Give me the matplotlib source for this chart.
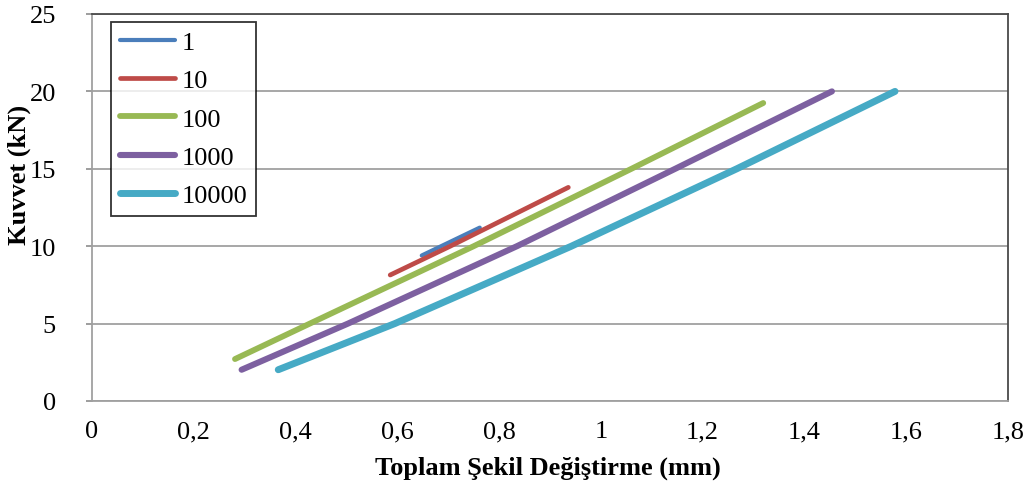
import matplotlib
matplotlib.use("Agg")
import matplotlib.pyplot as plt
from matplotlib.ticker import FuncFormatter

# Force-displacement curves per cycle count
series_names = ["1", "10", "100", "1000", "10000"]
colors = ["#4A7EBB", "#BE4B48", "#98B954", "#7D60A0", "#46AAC5"]
widths = [3.0, 3.4, 4.2, 4.4, 5.0]

x_1 = [0.648, 0.705, 0.762]
y_1 = [9.40, 10.30, 11.20]

x_10 = [0.586, 0.704, 0.820, 0.936]
y_10 = [8.14, 10.0, 11.90, 13.80]

x_100 = [0.281, 0.428, 0.750, 1.060, 1.319]
y_100 = [2.71, 5.0, 10.0, 15.0, 19.25]

x_1000 = [0.294, 0.503, 0.835, 1.146, 1.454]
y_1000 = [2.02, 5.0, 10.0, 15.0, 20.0]

x_10000 = [0.366, 0.595, 0.942, 1.267, 1.578]
y_10000 = [2.02, 5.0, 10.0, 15.0, 20.0]

xs = [x_1, x_10, x_100, x_1000, x_10000]
ys = [y_1, y_10, y_100, y_1000, y_10000]

x_ticks = [0, 0.2, 0.4, 0.6, 0.8, 1.0, 1.2, 1.4, 1.6, 1.8]
y_ticks = [0, 5, 10, 15, 20, 25]

plt.rcParams["font.family"] = ["Liberation Serif", "DejaVu Serif"]

fig = plt.figure(figsize=(10.26, 4.89), dpi=100)
ax = fig.add_axes([92 / 1026, 1 - 402 / 489, (1008 - 92) / 1026, (402 - 15) / 489])

for name, c, lw, x, y in zip(series_names, colors, widths, xs, ys):
    ax.plot(x, y, color=c, lw=lw, solid_capstyle="round", solid_joinstyle="round",
            label=name, zorder=3)

ax.set_xlim(0, 1.8)
ax.set_ylim(0, 25)
ax.set_xticks(x_ticks)
ax.set_yticks(y_ticks)


def comma(v, pos):
    s = f"{v:.1f}".rstrip("0").rstrip(".")
    return s.replace(".", ",")


ax.xaxis.set_major_formatter(FuncFormatter(comma))
ax.tick_params(axis="x", length=0, pad=14, labelsize=19)
ax.tick_params(axis="y", length=4, width=1.2, color="#8C8C8C", pad=22, labelsize=19)

ax.yaxis.grid(True, color="#A0A0A0", lw=1.3)
ax.set_axisbelow(True)

for side in ["left", "bottom"]:
    ax.spines[side].set_color("#A0A0A0")
    ax.spines[side].set_linewidth(1.3)
for side in ["top", "right"]:
    ax.spines[side].set_color("#4A4A4A")
    ax.spines[side].set_linewidth(1.3)

fig.text(548 / 1026, 1 - 468 / 489, "Toplam Şekil Değiştirme (mm)", ha="center", va="center",
         fontsize=19, fontweight="bold")
fig.text(19 / 1026, 1 - 175 / 489, "Kuvvet (kN)", ha="center", va="center", rotation=90,
         fontsize=19, fontweight="bold")

leg = ax.legend(loc="upper left", bbox_to_anchor=(111 / 1026, 1 - 23 / 489),
                bbox_transform=fig.transFigure, borderaxespad=0, fancybox=False,
                frameon=True, fontsize=19, handlelength=2.1, handletextpad=0.25,
                labelspacing=0.56, borderpad=0.33)
leg.get_frame().set_edgecolor("#000000")
leg.get_frame().set_linewidth(1.3)

fig.savefig("out.png", dpi=100)
